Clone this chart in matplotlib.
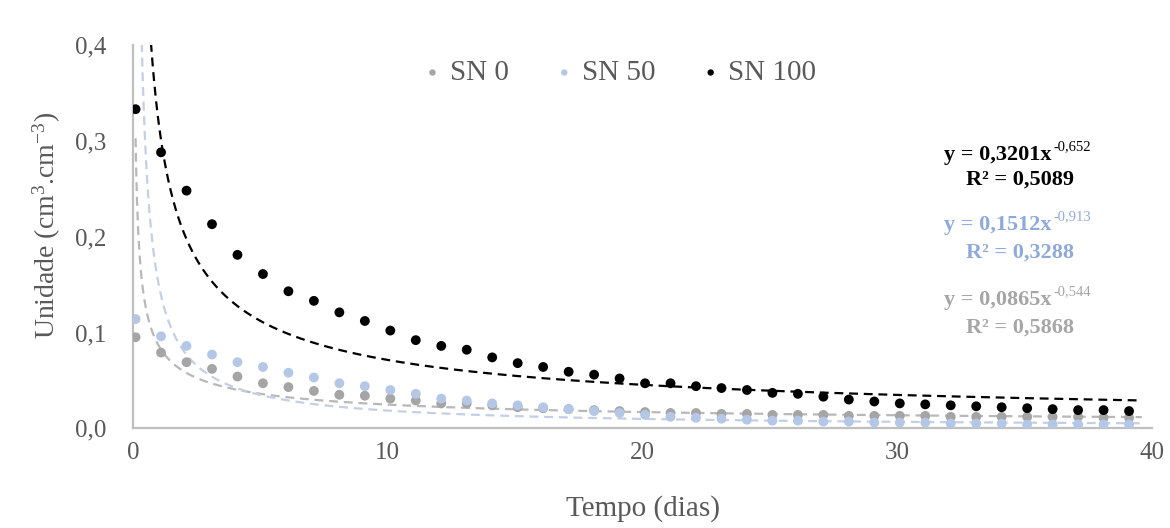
import numpy as np
import matplotlib
matplotlib.use("Agg")
import matplotlib.pyplot as plt

plt.rcParams['font.family'] = ['Liberation Serif', 'DejaVu Serif']
plt.rcParams['mathtext.fontset'] = 'custom'
plt.rcParams['mathtext.rm'] = 'Liberation Serif'
plt.rcParams['mathtext.it'] = 'Liberation Serif:italic'
plt.rcParams['mathtext.bf'] = 'Liberation Serif:bold'

# ---------------- data ----------------
days = [0.1, 1.1, 2.1, 3.1, 4.1, 5.1, 6.1, 7.1, 8.1, 9.1,
        10.1, 11.1, 12.1, 13.1, 14.1, 15.1, 16.1, 17.1, 18.1, 19.1,
        20.1, 21.1, 22.1, 23.1, 24.1, 25.1, 26.1, 27.1, 28.1, 29.1,
        30.1, 31.1, 32.1, 33.1, 34.1, 35.1, 36.1, 37.1, 38.1, 39.1]

sn0 = [0.095, 0.079, 0.069, 0.062, 0.054, 0.047, 0.043, 0.039, 0.035, 0.034,
       0.031, 0.029, 0.026, 0.026, 0.024, 0.022, 0.021, 0.020, 0.019, 0.018,
       0.017, 0.016, 0.016, 0.015, 0.015, 0.014, 0.014, 0.014, 0.013, 0.013,
       0.013, 0.013, 0.012, 0.012, 0.012, 0.012, 0.012, 0.012, 0.011, 0.011]

sn50 = [0.114, 0.096, 0.086, 0.077, 0.069, 0.064, 0.058, 0.053, 0.047, 0.044,
        0.040, 0.036, 0.031, 0.029, 0.026, 0.024, 0.022, 0.020, 0.018, 0.016,
        0.014, 0.012, 0.011, 0.010, 0.009, 0.008, 0.008, 0.007, 0.007, 0.006,
        0.006, 0.006, 0.005, 0.005, 0.005, 0.004, 0.004, 0.004, 0.004, 0.004]

sn100 = [0.333, 0.288, 0.248, 0.213, 0.181, 0.161, 0.143, 0.133, 0.121, 0.112,
         0.102, 0.092, 0.086, 0.082, 0.074, 0.068, 0.064, 0.059, 0.056, 0.052,
         0.047, 0.047, 0.044, 0.042, 0.040, 0.037, 0.036, 0.033, 0.030, 0.028,
         0.026, 0.025, 0.024, 0.023, 0.022, 0.021, 0.020, 0.019, 0.019, 0.018]

series_names = ["SN 0", "SN 50", "SN 100"]
fit_a = [0.0865, 0.1512, 0.3201]
fit_b = [-0.544, -0.913, -0.652]
fit_r2 = ["0,5868", "0,3288", "0,5089"]
fit_a_txt = ["0,0865", "0,1512", "0,3201"]
fit_b_txt = ["-0,544", "-0,913", "-0,652"]

xticks = [0, 10, 20, 30, 40]
yticks = [0.0, 0.1, 0.2, 0.3, 0.4]
ytick_labels = ["0,0", "0,1", "0,2", "0,3", "0,4"]

# ---------------- style ----------------
dot_colors = ["#a5a5a5", "#b4c7e7", "#000000"]
line_colors = ["#b8b8b8", "#c3cfe6", "#000000"]
eq_colors = ["#a6a6a6", "#8eaadb", "#000000"]
text_gray = "#595959"

fig = plt.figure(figsize=(11.70, 5.28), dpi=100)
ax = fig.add_axes([0.1137, 0.1888, 0.8709, 0.7260])

# trend lines
xf = np.linspace(0.1, 39.6, 2000)
for a, b, c in zip(fit_a, fit_b, line_colors):
    ax.plot(xf, a * xf ** b, color=c, lw=1.6, dashes=(4, 2.6), zorder=2)

series = [sn0, sn50, sn100]
for vals, c, name in zip(series, dot_colors, series_names):
    ax.scatter(days, vals, s=50, color=c, edgecolors='none', zorder=3, label=name)

ax.set_xlim(0, 40)
ax.set_ylim(0, 0.4)
ax.set_xticks(xticks)
ax.set_xticklabels([str(t) for t in xticks])
ax.set_yticks(yticks)
ax.set_yticklabels(ytick_labels)
ax.tick_params(axis='both', length=0, labelsize=18, colors=text_gray)
ax.tick_params(axis='y', pad=19)
ax.tick_params(axis='x', pad=10)

for s in ['top', 'right']:
    ax.spines[s].set_visible(False)
for s in ['left', 'bottom']:
    ax.spines[s].set_color('#bfbfbf')
    ax.spines[s].set_linewidth(1.6)

ax.set_xlabel("Tempo (dias)", fontsize=21, color=text_gray, labelpad=22)
ax.set_ylabel(r"Unidade (cm$^{3}$.cm$^{-3}$)", fontsize=20, color=text_gray, labelpad=12)
ax.yaxis.set_label_coords(-0.069, 0.53)

leg = ax.legend(loc='upper center', bbox_to_anchor=(0.475, 1.03), ncol=3, frameon=False,
                fontsize=21, markerscale=0.65, handletextpad=0.1, columnspacing=1.4,
                labelcolor=text_gray, handlelength=1.0)

# equations (figure pixel coords -> figure fraction)
W, H = 1170.0, 528.0
eq_base = [305, 230, 160]
r2_base = [333, 258, 185]
for i in range(3):
    yb = eq_base[i]
    fig.text(1052 / W, 1 - yb / H, "y = " + fit_a_txt[i] + "x", ha='right', va='baseline',
             fontsize=16, fontweight='bold', color=eq_colors[i])
    fig.text(1053 / W, 1 - (yb - 10) / H, fit_b_txt[i], ha='left', va='baseline',
             fontsize=10.5, color=eq_colors[i])
    fig.text(1020 / W, 1 - r2_base[i] / H, "R² = " + fit_r2[i], ha='center', va='baseline',
             fontsize=16, fontweight='bold', color=eq_colors[i])

fig.savefig("out.png", dpi=100)
